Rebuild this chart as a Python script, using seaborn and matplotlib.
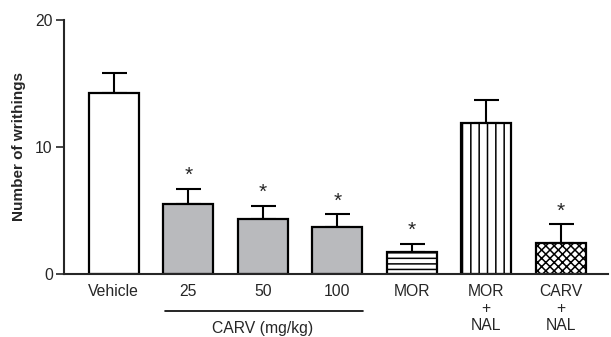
import pandas as pd
import matplotlib
matplotlib.use("Agg")
import matplotlib.pyplot as plt
import seaborn as sns

# values (mean, SEM)
groups = ['Vehicle', '25', '50', '100', 'MOR', 'MOR+NAL', 'CARV+NAL']
tick_labels = ['Vehicle', '25', '50', '100', 'MOR', 'MOR\n+\nNAL', 'CARV\n+\nNAL']
means = [14.25, 5.5, 4.35, 3.7, 1.73, 11.85, 2.45]
sems = [1.6, 1.22, 1.02, 1.0, 0.63, 1.88, 1.45]
signif = [False, True, True, True, True, False, True]

sns.set_style("ticks")
plt.rcParams['font.family'] = ['Liberation Sans', 'DejaVu Sans']
plt.rcParams['hatch.linewidth'] = 1.1

df = pd.DataFrame({'group': groups, 'writhings': means})

fig = plt.figure(figsize=(6.11, 3.37), dpi=100)
ax = fig.add_axes([0.1047, 0.187, 0.89, 0.7537])

sns.barplot(data=df, x='group', y='writhings', order=groups, errorbar=None,
            width=0.667, color='white', edgecolor='black', linewidth=1.6,
            ax=ax, zorder=2)

fills = ['white', '#b9babd', '#b9babd', '#b9babd', 'white', 'white', 'white']
hatches = [None, None, None, None, '---', '||', 'xxxx']
for patch, fc, h in zip(ax.patches, fills, hatches):
    patch.set_facecolor(fc)
    if h:
        patch.set_hatch(h)

# upper error bars only
xs = range(len(groups))
ax.errorbar(xs, means, yerr=[[0] * len(means), sems], fmt='none',
            ecolor='black', elinewidth=1.5, capsize=9, capthick=1.5, zorder=1)

for x, m, s, sig in zip(xs, means, sems, signif):
    if sig:
        ax.text(x, m + s + 0.3, '*', ha='center', va='bottom', fontsize=15)

ax.set_xlim(-0.667, 6.63)
ax.set_ylim(0, 20)
ax.set_yticks([0, 10, 20])
ax.set_xticks(list(xs))
ax.set_xticklabels(tick_labels, fontsize=11.3, linespacing=1.17)
ax.tick_params(axis='x', length=0, pad=7)
ax.tick_params(axis='y', length=6, width=1.2, labelsize=11.3, pad=2)
ax.set_xlabel('')
ax.set_ylabel('Number of writhings', fontsize=11, fontweight='bold', labelpad=7)

sns.despine(ax=ax)
ax.spines['left'].set_linewidth(1.5)
ax.spines['bottom'].set_linewidth(1.5)

# CARV dose bracket
ax.plot([0.69, 3.35], [-0.146, -0.146], color='black', lw=1.2,
        transform=ax.get_xaxis_transform(), clip_on=False)
ax.text(2.0, -0.215, 'CARV (mg/kg)', ha='center', va='center', fontsize=11.3,
        transform=ax.get_xaxis_transform())

fig.savefig('out.png', dpi=100)
